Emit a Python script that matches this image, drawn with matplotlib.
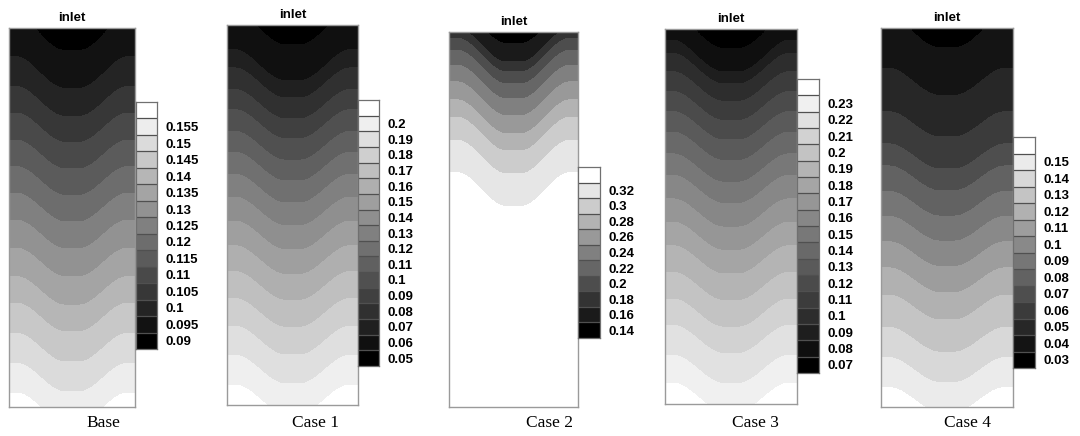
import numpy as np
import matplotlib.pyplot as plt
from matplotlib.colors import ListedColormap

# contour levels shown in each legend (bottom to top)
base_levels = [0.09, 0.095, 0.1, 0.105, 0.11, 0.115, 0.12, 0.125, 0.13, 0.135, 0.14, 0.145, 0.15, 0.155]
case1_levels = [0.05, 0.06, 0.07, 0.08, 0.09, 0.1, 0.11, 0.12, 0.13, 0.14, 0.15, 0.16, 0.17, 0.18, 0.19, 0.2]
case2_levels = [0.14, 0.16, 0.18, 0.2, 0.22, 0.24, 0.26, 0.28, 0.3, 0.32]
case3_levels = [0.07, 0.08, 0.09, 0.1, 0.11, 0.12, 0.13, 0.14, 0.15, 0.16, 0.17, 0.18, 0.19, 0.2, 0.21, 0.22, 0.23]
case4_levels = [0.03, 0.04, 0.05, 0.06, 0.07, 0.08, 0.09, 0.1, 0.11, 0.12, 0.13, 0.14, 0.15]

# depth (0 = inlet, 1 = bottom) where each level meets the side walls
base_wall = [-0.045, 0.076, 0.155, 0.225, 0.296, 0.366, 0.436, 0.507, 0.581, 0.656, 0.726, 0.806, 0.885, 0.964]
case1_wall = [-0.045, 0.065, 0.113, 0.170, 0.223, 0.280, 0.335, 0.393, 0.453, 0.516, 0.581, 0.649, 0.720, 0.793, 0.869, 0.948]
case2_wall = [-0.06, -0.01, 0.016, 0.048, 0.088, 0.133, 0.181, 0.227, 0.288, 0.376]
case3_wall = [-0.045, 0.030, 0.065, 0.114, 0.167, 0.220, 0.275, 0.333, 0.390, 0.453, 0.515, 0.578, 0.649, 0.720, 0.790, 0.870, 0.945]
case4_wall = [-0.045, 0.106, 0.221, 0.306, 0.364, 0.431, 0.497, 0.564, 0.633, 0.705, 0.790, 0.870, 0.949]

# how far the contours sag in the middle (far field, extra near inlet)
sag = [0.075, 0.075, 0.09, 0.075, 0.065]
sag_inlet = [0.06, 0.04, 0.0, 0.04, 0.06]

names = ['Base', 'Case 1', 'Case 2', 'Case 3', 'Case 4']
all_levels = [base_levels, case1_levels, case2_levels, case3_levels, case4_levels]
all_wall = [base_wall, case1_wall, case2_wall, case3_wall, case4_wall]

# layout in pixels: domain box and legend box (x0, y0, x1, y1)
W, H = 1080, 436
dom_px = [(9, 28, 135, 407), (227, 25, 358, 405), (449, 32, 578, 407),
          (665, 29, 797, 404), (881, 28, 1013, 407)]
bar_px = [(136, 102, 157, 349), (358, 100, 379, 366), (578, 167, 600, 338),
          (797, 79, 819, 373), (1013, 137, 1035, 368)]
name_x = [103, 315, 550, 755, 968]

fig = plt.figure(figsize=(W / 100, H / 100), dpi=100)


def px_axes(r):
    x0, y0, x1, y1 = r
    return fig.add_axes([x0 / W, 1 - y1 / H, (x1 - x0) / W, (y1 - y0) / H])


x = np.linspace(0, 1, 400)
d = np.linspace(0, 1, 900)
X, D = np.meshgrid(x, d)
u = np.abs(X - 0.5)
t = np.clip((0.44 - u) / 0.38, 0, 1)
g = t * t * (3 - 2 * t)

for i in range(5):
    lev = np.array(all_levels[i])
    n = len(lev)
    grays = [str(v) for v in np.linspace(0, 1, n + 1)]
    step = lev[1] - lev[0]

    s = D - (sag[i] + sag_inlet[i] * np.exp(-D / 0.08)) * g
    F = np.interp(s, all_wall[i], lev, left=lev[0] - step, right=lev[-1] + step)

    ax = px_axes(dom_px[i])
    ax.contourf(X, D, F, levels=lev, colors=grays, extend='both', antialiased=False)
    ax.set_xlim(0, 1)
    ax.set_ylim(1, 0)
    ax.set_xticks([])
    ax.set_yticks([])
    for sp in ax.spines.values():
        sp.set_color('#9a9a9a')
        sp.set_linewidth(1.0)
    ax.set_title('inlet', fontsize=9.5, fontweight='bold', family='Liberation Sans', pad=5)

    # legend boxes
    cax = px_axes(bar_px[i])
    cax.pcolormesh([0, 1], np.arange(n + 2), np.arange(n + 1)[:, None],
                   cmap=ListedColormap(grays), vmin=-0.5, vmax=n + 0.5)
    cax.hlines(np.arange(1, n + 1), 0, 1, color='#505050', lw=0.9)
    cax.set_xlim(0, 1)
    cax.set_ylim(0, n + 1)
    cax.set_xticks([])
    cax.set_yticks(np.arange(n) + 0.5)
    cax.set_yticklabels([f'{v:g}' for v in lev], fontsize=9.5, fontweight='bold',
                        family='Liberation Sans')
    cax.yaxis.tick_right()
    cax.tick_params(axis='y', length=0, pad=6)
    for sp in cax.spines.values():
        sp.set_color('#707070')
        sp.set_linewidth(0.9)

    # case name under each panel
    fig.text(name_x[i] / W, 1 - 423 / H, names[i], ha='center', va='center',
             fontsize=12.5, family='Liberation Serif')

fig.savefig('out.png', dpi=100)
